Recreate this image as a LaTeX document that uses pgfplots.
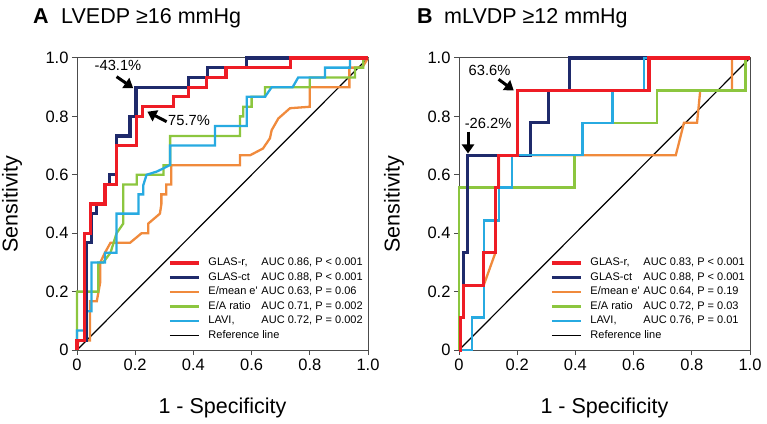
\documentclass[border=0pt]{standalone}
\usepackage{pgfplots}
\pgfplotsset{compat=1.18}
\usepackage{fontspec}
\setmainfont{Liberation Sans}
\usetikzlibrary{arrows.meta}

\definecolor{cR}{HTML}{EE1C25}
\definecolor{cN}{HTML}{1F2A6B}
\definecolor{cO}{HTML}{F08A3C}
\definecolor{cG}{HTML}{8CC63F}
\definecolor{cC}{HTML}{27AAE1}

\newcommand{\legtxt}[2]{\makebox[53pt][l]{#1}#2}

\tikzset{
  arr/.style={line width=3pt, -{Triangle[length=9pt,width=12pt]}},
  ann/.style={font=\fontsize{14.7}{16}\selectfont, inner sep=0pt},
  thick line/.style={line width=3.2pt},
  thin line/.style={line width=2.3pt},
}

\pgfplotsset{
  roc/.style={
    scale only axis, width=291pt, height=292pt,
    xmin=0, xmax=1, ymin=0, ymax=1, clip=false,
    axis line style={draw=black!70, line width=1pt},
    xtick={0,0.2,0.4,0.6,0.8,1}, ytick={0,0.2,0.4,0.6,0.8,1},
    xticklabels={0,0.2,0.4,0.6,0.8,1.0}, yticklabels={0,0.2,0.4,0.6,0.8,1.0},
    tick align=outside, xtick pos=bottom, ytick pos=left,
    major tick length=5pt, tick style={draw=black!70, line width=1pt},
    tick label style={font=\fontsize{16.5}{18}\selectfont},
    /pgf/number format/assume math mode=true,
    xlabel={1 - Specificity}, ylabel={Sensitivity},
    label style={font=\fontsize{21.5}{24}\selectfont},
    xlabel style={at={(axis description cs:0.5,-0.199)}, anchor=center},
    ylabel style={at={(axis description cs:-0.223,0.5)}, anchor=center},
    legend image code/.code={\draw[#1] (0pt,0pt) -- (29pt,0pt);},
    legend style={draw=none, fill=none, font=\fontsize{11}{13}\selectfont,
      at={(axis cs:0.313,0.174)}, anchor=west, row sep=4pt, inner sep=0pt,
      nodes={inner sep=0pt, text height=8pt, text depth=2.5pt},
      /tikz/every odd column/.append style={column sep=8pt}},
    legend cell align=left,
  },
}

\begin{document}
\begin{tikzpicture}
\useasboundingbox (0,0) rectangle (767pt,423pt);

\node[anchor=base west, inner sep=0pt, font=\fontsize{21.5}{24}\selectfont] at (33pt,399.7pt) {\textbf{A}\hspace{12.5pt}LVEDP ≥16 mmHg};
\node[anchor=base west, inner sep=0pt, font=\fontsize{21.5}{24}\selectfont] at (417pt,399.7pt) {\textbf{B}\hspace{11.5pt}mLVDP ≥12 mmHg};

% Panel A
\begin{axis}[roc, at={(77pt,73pt)}, anchor=south west]
\addplot[black, line width=1.2pt, forget plot] coordinates {(0,0) (1,1)};
\addplot[cO, thin line, forget plot] coordinates {
(0,0) (0.005,0.033) (0.045,0.033) (0.045,0.167) (0.068,0.167) (0.08,0.233) (0.08,0.3)
(0.096,0.333) (0.115,0.367) (0.182,0.367) (0.222,0.4) (0.245,0.4) (0.245,0.433)
(0.285,0.467) (0.29,0.5) (0.29,0.533) (0.307,0.533) (0.307,0.567) (0.324,0.567)
(0.324,0.633) (0.56,0.633) (0.56,0.667) (0.595,0.667) (0.639,0.69) (0.663,0.725)
(0.669,0.753) (0.692,0.793) (0.732,0.828) (0.8,0.833) (0.8,0.9) (0.936,0.9)
(0.936,0.967) (0.98,0.967) (1,1)};
\addplot[cG, thin line, forget plot] coordinates {
(0,0) (0,0.2) (0.073,0.2) (0.073,0.3) (0.09,0.3) (0.115,0.333) (0.136,0.4)
(0.159,0.433) (0.159,0.567) (0.205,0.567) (0.205,0.6) (0.297,0.6) (0.297,0.633)
(0.32,0.633) (0.32,0.733) (0.56,0.733) (0.56,0.8) (0.571,0.8) (0.571,0.833)
(0.6,0.833) (0.6,0.867) (0.646,0.867) (0.646,0.9) (0.8,0.9) (0.8,0.933)
(0.955,0.933) (0.955,0.967) (0.984,0.967) (0.984,1) (1,1)};
\addplot[cC, thin line, forget plot] coordinates {
(0,0) (0,0.067) (0.027,0.067) (0.027,0.133) (0.05,0.133) (0.05,0.3) (0.096,0.3)
(0.096,0.333) (0.136,0.333) (0.136,0.467) (0.211,0.467) (0.211,0.533) (0.228,0.533)
(0.228,0.565) (0.239,0.6) (0.274,0.611) (0.297,0.622) (0.32,0.634) (0.32,0.7)
(0.474,0.7) (0.474,0.767) (0.583,0.767) (0.583,0.867) (0.646,0.867) (0.669,0.9)
(0.741,0.9) (0.76,0.933) (0.852,0.933) (0.852,0.967) (0.938,0.967) (0.938,1) (1,1)};
\addplot[cN, thick line, forget plot] coordinates {
(0,0) (0,0.033) (0.033,0.033) (0.033,0.367) (0.05,0.367) (0.05,0.467) (0.068,0.467)
(0.068,0.5) (0.096,0.5) (0.096,0.567) (0.113,0.567) (0.113,0.6) (0.136,0.6)
(0.136,0.733) (0.182,0.733) (0.182,0.8) (0.203,0.8) (0.203,0.9) (0.383,0.9)
(0.383,0.933) (0.448,0.933) (0.448,0.967) (0.583,0.967) (0.583,1) (1,1)};
\addplot[cR, thick line, forget plot] coordinates {
(0,0) (0,0.033) (0.027,0.033) (0.027,0.4) (0.047,0.4) (0.047,0.5) (0.096,0.5)
(0.096,0.567) (0.136,0.567) (0.136,0.7) (0.205,0.7) (0.205,0.8) (0.226,0.8)
(0.226,0.833) (0.331,0.833) (0.331,0.867) (0.382,0.867) (0.382,0.9) (0.446,0.9)
(0.446,0.933) (0.512,0.933) (0.512,0.967) (0.734,0.967) (0.734,1) (1,1)};
\addlegendimage{cR, thick line}
\addlegendentry{\legtxt{GLAS-r,}{AUC 0.86, P < 0.001}}
\addlegendimage{cN, thick line}
\addlegendentry{\legtxt{GLAS-ct}{AUC 0.88, P < 0.001}}
\addlegendimage{cO, thin line}
\addlegendentry{\legtxt{E/mean e\textquotesingle}{AUC 0.63, P = 0.06}}
\addlegendimage{cG, thin line}
\addlegendentry{\legtxt{E/A ratio}{AUC 0.71, P = 0.002}}
\addlegendimage{cC, thin line}
\addlegendentry{\legtxt{LAVI,}{AUC 0.72, P = 0.002}}
\addlegendimage{black, line width=1.2pt}
\addlegendentry{Reference line}
\node[ann] at (axis cs:0.141,0.973) {-43.1\%};
\draw[arr] (axis cs:0.136,0.936) -- (axis cs:0.193,0.897);
\node[ann] at (axis cs:0.385,0.786) {75.7\%};
\draw[arr] (axis cs:0.308,0.782) -- (axis cs:0.242,0.816);
\end{axis}

% Panel B
\begin{axis}[roc, at={(459pt,73pt)}, anchor=south west]
\addplot[black, line width=1.2pt, forget plot] coordinates {(0,0) (1,1)};
\addplot[cO, thin line, forget plot] coordinates {
(0,0) (0.005,0) (0.005,0.111) (0.016,0.111) (0.016,0.222) (0.085,0.222) (0.125,0.333)
(0.125,0.556) (0.137,0.556) (0.137,0.667) (0.745,0.667) (0.773,0.778) (0.818,0.778)
(0.829,0.889) (0.938,0.889) (0.938,1) (1,1)};
\addplot[cG, thin line, forget plot] coordinates {
(0,0) (0,0.556) (0.397,0.556) (0.397,0.667) (0.424,0.667) (0.424,0.778) (0.681,0.778)
(0.681,0.889) (0.985,0.889) (0.985,1) (1,1)};
\addplot[cN, thick line, forget plot] coordinates {
(0,0) (0.005,0) (0.005,0.111) (0.016,0.111) (0.016,0.333) (0.03,0.333) (0.03,0.667)
(0.246,0.667) (0.246,0.778) (0.307,0.778) (0.307,0.889) (0.381,0.889) (0.381,1) (1,1)};
\addplot[cC, thin line, forget plot] coordinates {
(0,0) (0.045,0) (0.045,0.111) (0.085,0.111) (0.085,0.444) (0.137,0.444) (0.137,0.556)
(0.181,0.556) (0.181,0.667) (0.424,0.667) (0.424,0.778) (0.527,0.778) (0.527,0.889)
(0.636,0.889) (0.636,1) (1,1)};
\addplot[cR, thick line, forget plot] coordinates {
(0,0) (0.005,0) (0.005,0.111) (0.016,0.111) (0.016,0.222) (0.085,0.222) (0.085,0.333)
(0.125,0.333) (0.125,0.556) (0.137,0.556) (0.137,0.667) (0.2,0.667) (0.2,0.889)
(0.653,0.889) (0.653,1) (1,1)};
\addlegendimage{cR, thick line}
\addlegendentry{\legtxt{GLAS-r,}{AUC 0.83, P < 0.001}}
\addlegendimage{cN, thick line}
\addlegendentry{\legtxt{GLAS-ct}{AUC 0.88, P < 0.001}}
\addlegendimage{cO, thin line}
\addlegendentry{\legtxt{E/mean e\textquotesingle}{AUC 0.64, P = 0.19}}
\addlegendimage{cG, thin line}
\addlegendentry{\legtxt{E/A ratio}{AUC 0.72, P = 0.03}}
\addlegendimage{cC, thin line}
\addlegendentry{\legtxt{LAVI,}{AUC 0.76, P = 0.01}}
\addlegendimage{black, line width=1.2pt}
\addlegendentry{Reference line}
\node[ann] at (axis cs:0.105,0.959) {63.6\%};
\draw[arr] (axis cs:0.136,0.927) -- (axis cs:0.188,0.889);
\node[ann] at (axis cs:0.1,0.777) {-26.2\%};
\draw[arr] (axis cs:0.031,0.748) -- (axis cs:0.031,0.673);
\end{axis}
\end{tikzpicture}
\end{document}
